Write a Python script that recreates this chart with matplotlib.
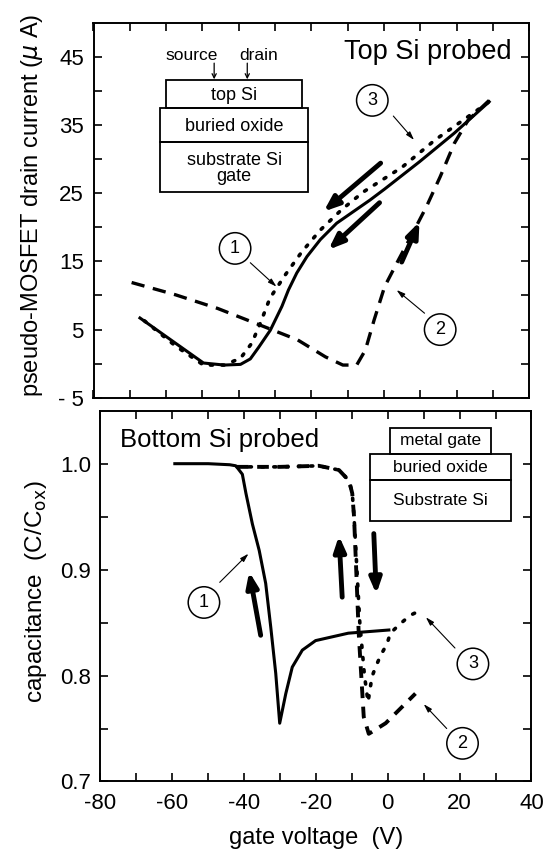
import matplotlib.pyplot as plt
from matplotlib.patches import Rectangle

plt.rcParams['font.family'] = ['Liberation Sans', 'DejaVu Sans']

# ---- top panel data: pseudo-MOSFET drain current (uA) vs gate voltage (V)
top_v1 = [-67.2, -57.4, -49.7, -44.0, -39.5, -36.8, -34.5, -31.3, -28.1, -26.3, -24.0,
          -21.2, -17.5, -13.0, -8.4, -3.8, 0.2, 9.8, 19.4, 29.0]
top_i1 = [6.7, 3.0, 0.1, -0.2, -0.1, 0.7, 2.4, 4.9, 8.4, 10.8, 13.3,
          15.7, 18.2, 20.6, 22.3, 24.0, 25.6, 29.6, 33.8, 38.4]

top_v2 = [-69.5, -57.4, -45.8, -34.3, -23.8, -16.1, -11.3, -7.5, -5.1, -2.7,
          0.2, 4.0, 7.9, 11.7, 15.5, 19.4, 23.2, 29.0]
top_i2 = [11.9, 10.1, 8.1, 5.7, 3.5, 1.0, -0.2, -0.2, 2.0, 6.4,
          11.3, 15.2, 19.1, 23.0, 27.4, 32.3, 35.7, 38.6]

top_v3 = [-66.0, -57.4, -49.7, -44.0, -39.5, -36.4, -34.0, -31.4, -27.2, -22.6,
          -17.5, -11.6, -5.6, 5.0, 14.1, 29.0]
top_i3 = [6.3, 2.6, -0.2, -0.2, 0.8, 3.0, 6.0, 9.6, 13.0, 16.4,
          19.6, 22.6, 25.2, 28.8, 32.8, 38.4]

# ---- bottom panel data: capacitance (C/Cox) vs gate voltage (V)
bot_v1 = [-59.3, -50.0, -44.0, -42.3, -40.5, -39.5, -37.7, -35.8, -34.0, -32.6,
          -31.2, -30.1, -28.4, -26.6, -23.8, -20.1, -11.0, 0.3]
bot_c1 = [1.0, 1.0, 0.999, 0.998, 0.990, 0.972, 0.943, 0.918, 0.887, 0.846,
          0.802, 0.755, 0.783, 0.808, 0.824, 0.833, 0.840, 0.843]

bot_v2 = [-42.0, -30.0, -19.2, -13.6, -10.8, -9.9, -9.4, -8.8, -8.1, -6.7,
          -5.3, -0.6, 7.7]
bot_c2 = [0.997, 0.997, 0.998, 0.994, 0.984, 0.972, 0.950, 0.90, 0.84, 0.761,
          0.745, 0.755, 0.783]

bot_v3 = [-42.0, -30.0, -19.2, -13.6, -10.8, -9.9, -9.4, -8.6, -7.8, -6.5,
          -5.5, -4.4, -3.4, -2.0, -0.2, 0.7, 3.5, 6.3, 9.4]
bot_c3 = [0.997, 0.997, 0.998, 0.994, 0.984, 0.972, 0.950, 0.90, 0.85, 0.80,
          0.775, 0.799, 0.808, 0.819, 0.830, 0.840, 0.849, 0.857, 0.862]

x_ticks = list(range(-80, 41, 10))
x_labels = ['-80', '', '-60', '', '-40', '', '-20', '', '0', '', '20', '', '40']
top_yticks = [-5, 0, 5, 10, 15, 20, 25, 30, 35, 40, 45]
top_ylabels = ['- 5', '', '5', '', '15', '', '25', '', '35', '', '45']
bot_yticks = [0.7, 0.75, 0.8, 0.85, 0.9, 0.95, 1.0]
bot_ylabels = ['0.7', '', '0.8', '', '0.9', '', '1.0']

fig = plt.figure(figsize=(5.5, 8.5), dpi=100)
ax1 = fig.add_axes([0.170, 0.532, 0.792, 0.4414])
ax2 = fig.add_axes([0.1827, 0.0806, 0.7836, 0.4362])

for ax in (ax1, ax2):
    ax.set_xlim(-80, 40)
    ax.set_xticks(x_ticks)
    ax.tick_params(direction='in', length=6, width=1.2, top=True, right=True,
                   labelsize=16, pad=7)
    for s in ax.spines.values():
        s.set_linewidth(1.4)

# top panel
ax1.set_ylim(-5, 50)
ax1.set_yticks(top_yticks)
ax1.set_yticklabels(top_ylabels)
ax1.set_xticklabels([])
ax1.plot(top_v1, top_i1, color='black', lw=2.2)
ax1.plot(top_v2, top_i2, color='black', lw=2.4, dashes=(4.0, 2.6))
ax1.plot(top_v3, top_i3, color='black', lw=2.6, dashes=(0.6, 2.6), dash_capstyle='round')
ax1.set_ylabel('pseudo-MOSFET drain current ($\\mu$ A)', fontsize=17)
ax1.yaxis.set_label_coords(-0.112, 0.514)
ax1.text(35.3, 44.6, 'Top Si probed', fontsize=19.5, ha='right', va='baseline')

thick = dict(arrowstyle='-|>,head_length=0.9,head_width=0.35', lw=3.5, color='black',
             shrinkA=0, shrinkB=0)
thin = dict(arrowstyle='-|>,head_length=0.5,head_width=0.15', lw=0.8, color='black',
            shrinkA=0, shrinkB=0)
circ = dict(boxstyle='circle,pad=0.4', fc='white', ec='black', lw=1.1)

ax1.annotate('', xy=(-16.6, 22.3), xytext=(-0.9, 29.4), arrowprops=thick)
ax1.annotate('', xy=(-15.3, 16.7), xytext=(-1.2, 23.6), arrowprops=thick)
ax1.annotate('', xy=(9.8, 20.8), xytext=(4.9, 14.9), arrowprops=thick)

ax1.annotate('', xy=(8.3, 32.8), xytext=(2.6, 36.3), arrowprops=thin)
ax1.annotate('', xy=(-29.6, 11.3), xytext=(-36.8, 14.8), arrowprops=thin)
ax1.annotate('', xy=(3.5, 10.8), xytext=(11.2, 7.4), arrowprops=thin)
ax1.text(-3.2, 38.6, '3', fontsize=13, ha='center', va='center', bbox=circ)
ax1.text(-41.0, 16.9, '1', fontsize=13, ha='center', va='center', bbox=circ)
ax1.text(15.5, 5.0, '2', fontsize=13, ha='center', va='center', bbox=circ)

# top inset (device cross-section)
for (x0, y0, w, h) in [(0.167, 0.772, 0.312, 0.0746), (0.153, 0.6815, 0.340, 0.0906),
                       (0.153, 0.548, 0.340, 0.1335)]:
    ax1.add_patch(Rectangle((x0, y0), w, h, transform=ax1.transAxes, fill=False,
                            ec='black', lw=1.3))
ax1.text(0.323, 0.806, 'top Si', transform=ax1.transAxes, fontsize=13,
         ha='center', va='center')
ax1.text(0.323, 0.724, 'buried oxide', transform=ax1.transAxes, fontsize=13,
         ha='center', va='center')
ax1.text(0.323, 0.612, 'substrate Si\ngate', transform=ax1.transAxes, fontsize=13,
         ha='center', va='center', linespacing=0.95)
ax1.text(0.2265, 0.913, 'source', transform=ax1.transAxes, fontsize=12.5,
         ha='center', va='center')
ax1.text(0.380, 0.913, 'drain', transform=ax1.transAxes, fontsize=12.5,
         ha='center', va='center')
small = dict(arrowstyle='->,head_length=0.3,head_width=0.15', lw=0.9, color='black',
             shrinkA=0, shrinkB=0)
ax1.annotate('', xy=(0.277, 0.849), xytext=(0.277, 0.892), xycoords='axes fraction',
             arrowprops=small)
ax1.annotate('', xy=(0.353, 0.849), xytext=(0.353, 0.892), xycoords='axes fraction',
             arrowprops=small)

# bottom panel
ax2.set_ylim(0.7, 1.05)
ax2.set_yticks(bot_yticks)
ax2.set_yticklabels(bot_ylabels)
ax2.set_xticklabels(x_labels)
ax2.tick_params(axis='x', pad=8)
ax2.plot(bot_v1, bot_c1, color='black', lw=2.2)
ax2.plot(bot_v2, bot_c2, color='black', lw=2.8, dashes=(3, 2.2))
ax2.plot(bot_v3, bot_c3, color='black', lw=2.6, dashes=(0.6, 2.8), dash_capstyle='round')
ax2.set_ylabel('capacitance  (C/C$_{\\rm ox}$)', fontsize=17.5)
ax2.yaxis.set_label_coords(-0.12, 0.513)
ax2.set_xlabel('gate voltage  (V)', fontsize=17, labelpad=10)
ax2.text(-74.7, 1.016, 'Bottom Si probed', fontsize=18.5, ha='left', va='baseline')

ax2.annotate('', xy=(-38.6, 0.898), xytext=(-35.4, 0.838), arrowprops=thick)
ax2.annotate('', xy=(-13.6, 0.932), xytext=(-12.7, 0.874), arrowprops=thick)
ax2.annotate('', xy=(-3.2, 0.877), xytext=(-3.9, 0.934), arrowprops=thick)

ax2.annotate('', xy=(-38.8, 0.915), xytext=(-46.8, 0.888), arrowprops=thin)
ax2.annotate('', xy=(10.6, 0.855), xytext=(18.7, 0.826), arrowprops=thin)
ax2.annotate('', xy=(10.0, 0.773), xytext=(16.4, 0.750), arrowprops=thin)
ax2.text(-51.2, 0.869, '1', fontsize=13, ha='center', va='center', bbox=circ)
ax2.text(23.7, 0.811, '3', fontsize=13, ha='center', va='center', bbox=circ)
ax2.text(20.8, 0.736, '2', fontsize=13, ha='center', va='center', bbox=circ)

# bottom inset
for (x0, y0, w, h) in [(0.672, 0.884, 0.234, 0.070), (0.626, 0.812, 0.326, 0.072),
                       (0.626, 0.702, 0.326, 0.110)]:
    ax2.add_patch(Rectangle((x0, y0), w, h, transform=ax2.transAxes, fill=False,
                            ec='black', lw=1.3))
ax2.text(0.789, 0.919, 'metal gate', transform=ax2.transAxes, fontsize=12.5,
         ha='center', va='center')
ax2.text(0.789, 0.848, 'buried oxide', transform=ax2.transAxes, fontsize=12.5,
         ha='center', va='center')
ax2.text(0.789, 0.757, 'Substrate Si', transform=ax2.transAxes, fontsize=12.5,
         ha='center', va='center')

fig.savefig('out.png', dpi=100, facecolor='white')
